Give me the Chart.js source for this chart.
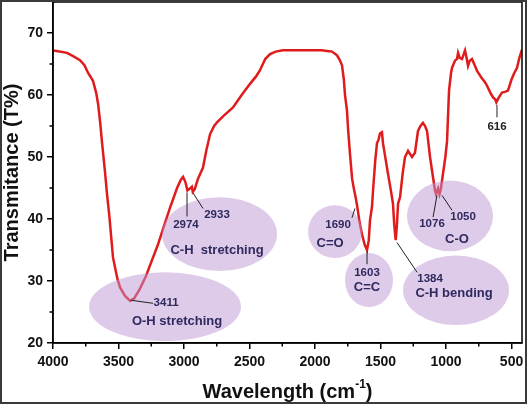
<!DOCTYPE html>
<html lang="en">
<head>
    <meta charset="UTF-8">
    <title>FTIR spectrum</title>
    <script src="https://cdn.jsdelivr.net/npm/chart.js"></script>
    <style>
        body {
            margin: 0;
            padding: 0;
            background: #fff;
        }
        #wrap {
            width: 527px;
            height: 404px;
        }
    </style>
</head>
<body>
    <div id="wrap">
        <canvas id="ftirChart" width="527" height="404"></canvas>
    </div>

    <script>
        // Spectrum (wavenumber in cm-1, transmittance in %)
        var wavenumbers = [
            4000, 3950, 3893, 3850, 3794, 3760, 3733, 3695, 3670, 3656,
            3640, 3626, 3603, 3588, 3570, 3542, 3510, 3489, 3450, 3411,
            3380, 3340, 3290, 3240, 3200, 3160, 3107, 3053, 3025, 3007,
            2990, 2974, 2955, 2940, 2933, 2918, 2893, 2855, 2830, 2801,
            2770, 2748, 2700, 2626, 2560, 2496, 2450, 2420, 2380, 2343,
            2300, 2244, 2100, 1950, 1908, 1870, 1832, 1810, 1794, 1780,
            1771, 1756, 1748, 1733, 1717, 1700, 1690, 1679, 1660, 1641,
            1620, 1603, 1590, 1580, 1565, 1557, 1540, 1527, 1515, 1504,
            1489, 1481, 1460, 1443, 1420, 1405, 1395, 1384, 1375, 1366,
            1351, 1330, 1313, 1290, 1275, 1260, 1237, 1214, 1195, 1176,
            1160, 1145, 1122, 1099, 1084, 1076, 1061, 1050, 1040, 1023,
            1005, 992, 977, 962, 954, 930, 916, 908, 895, 878,
            865, 855, 843, 832, 820, 802, 785, 763, 730, 700,
            687, 660, 641, 625, 616, 600, 573, 550, 527, 500,
            480, 458, 440, 420
        ];
        var transmittance = [
            67.2, 67.0, 66.8, 66.3, 65.6, 64.8, 63.6, 62.3, 60.3, 58.6,
            55.6, 52.4, 47.6, 44.1, 40.5, 33.8, 30.5, 29.0, 27.6, 26.8,
            27.2, 28.6, 30.8, 33.6, 35.8, 38.4, 41.8, 45.0, 46.3, 46.8,
            46.0, 44.6, 44.9, 45.2, 44.4, 44.8, 46.5, 48.3, 51.0, 53.7,
            55.0, 55.6, 56.6, 58.0, 60.0, 61.8, 63.0, 64.0, 65.8, 66.6,
            67.0, 67.2, 67.2, 67.2, 67.1, 67.0, 66.4, 65.6, 64.8, 62.5,
            60.0, 57.5, 54.6, 50.5, 46.5, 44.5, 43.5, 42.2, 39.5, 37.5,
            35.8, 35.0, 36.5, 39.8, 42.0, 44.6, 49.5, 52.2, 52.8, 53.8,
            54.0, 52.2, 49.5, 47.3, 44.5, 42.5, 39.0, 36.6, 39.0, 42.5,
            43.5, 47.5, 50.0, 51.0, 50.5, 50.0, 50.7, 54.2, 55.0, 55.5,
            55.0, 54.2, 50.0, 46.7, 44.6, 44.0, 44.9, 44.0, 44.8, 47.3,
            50.0, 52.6, 60.7, 63.5, 64.4, 65.6, 65.8, 66.8, 66.0, 65.8,
            66.6, 67.2, 66.0, 64.7, 65.5, 65.8, 65.0, 63.9, 62.8, 62.0,
            61.5, 60.3, 59.6, 59.3, 58.8, 59.5, 60.4, 60.5, 60.7, 62.5,
            63.5, 64.4, 66.0, 67.3
        ];

        // Axis settings
        var xMin = 420, xMax = 4000;
        var yMin = 20, yMax = 75;
        var xMajorTicks = [4000, 3500, 3000, 2500, 2000, 1500, 1000, 500];
        var yMajorTicks = [20, 30, 40, 50, 60, 70];
        var xMinorTicks = [750, 1250, 1750, 2250, 2750, 3250, 3750];
        var yMinorTicks = [25, 35, 45, 55, 65];

        // Shaded groups: [left wavenumber, right wavenumber, top %, bottom %]
        var ellipses = [
            [3725, 2565, 31.4, 20.3],
            [3168, 2290, 43.5, 31.6],
            [2053, 1641, 42.2, 33.7],
            [1771, 1405, 34.5, 25.8],
            [1298, 641, 46.2, 34.8],
            [1328, 519, 34.1, 22.9]
        ];

        // Leader lines from a peak to its label: [x1, y1, x2, y2]
        var leaders = [
            [3405, 26.9, 3237, 26.4],
            [2977, 44.3, 2977, 40.4],
            [2931, 44.2, 2855, 41.7],
            [1695, 41.7, 1718, 40.2],
            [1603, 34.8, 1603, 32.7],
            [1069, 43.8, 1099, 40.3],
            [1030, 43.8, 954, 41.4],
            [1374, 36.2, 1221, 31.4],
            [611, 58.4, 611, 56.4]
        ];

        // Peak numbers and group names: [text, x, y, size]
        var labels = [
            ['3411', 3137, 26.4, 11.5],
            ['O-H stretching', 3053, 23.4, 13],
            ['2974', 2985, 39.0, 11.5],
            ['2933', 2748, 40.6, 11.5],
            ['C-H  stretching', 2748, 35.0, 13],
            ['1690', 1824, 39.1, 11.5],
            ['C=O', 1885, 36.1, 13],
            ['1603', 1603, 31.3, 11.5],
            ['C=C', 1603, 28.9, 13],
            ['1076', 1107, 39.3, 11.5],
            ['1050', 870, 40.4, 11.5],
            ['C-O', 916, 36.7, 13],
            ['1384', 1122, 30.4, 11.5],
            ['C-H bending', 939, 28.0, 13]
        ];
        var peak616 = ['616', 611, 54.9, 11.5];

        var fontFamily = '"Liberation Sans", Arial, sans-serif';

        // Build the {x, y} points for the line
        var points = wavenumbers.map(function (w, i) {
            return { x: w, y: transmittance[i] };
        });

        // Draws the frame, minor ticks, axis titles and the annotations
        var decorPlugin = {
            id: 'decor',
            beforeDraw: function (chart) {
                var ctx = chart.ctx;
                ctx.save();
                ctx.fillStyle = '#fff';
                ctx.fillRect(0, 0, chart.width, chart.height);
                ctx.restore();
            },
            afterDatasetsDraw: function (chart) {
                var ctx = chart.ctx;
                var xs = chart.scales.x, ys = chart.scales.y;
                ctx.save();

                // lavender ellipses over the line
                ctx.fillStyle = 'rgba(190, 150, 212, 0.5)';
                ellipses.forEach(function (e) {
                    var x1 = xs.getPixelForValue(e[0]), x2 = xs.getPixelForValue(e[1]);
                    var y1 = ys.getPixelForValue(e[2]), y2 = ys.getPixelForValue(e[3]);
                    ctx.beginPath();
                    ctx.ellipse((x1 + x2) / 2, (y1 + y2) / 2, Math.abs(x2 - x1) / 2, Math.abs(y2 - y1) / 2, 0, 0, Math.PI * 2);
                    ctx.fill();
                });

                // leader lines
                ctx.strokeStyle = '#222';
                ctx.lineWidth = 1;
                leaders.forEach(function (l) {
                    ctx.beginPath();
                    ctx.moveTo(xs.getPixelForValue(l[0]), ys.getPixelForValue(l[1]));
                    ctx.lineTo(xs.getPixelForValue(l[2]), ys.getPixelForValue(l[3]));
                    ctx.stroke();
                });

                // texts
                ctx.textAlign = 'center';
                ctx.textBaseline = 'middle';
                ctx.fillStyle = '#2f2a5e';
                labels.forEach(function (t) {
                    ctx.font = 'bold ' + t[3] + 'px ' + fontFamily;
                    ctx.fillText(t[0], xs.getPixelForValue(t[1]), ys.getPixelForValue(t[2]));
                });
                ctx.fillStyle = '#222';
                ctx.font = 'bold ' + peak616[3] + 'px ' + fontFamily;
                ctx.fillText(peak616[0], xs.getPixelForValue(peak616[1]), ys.getPixelForValue(peak616[2]));
                ctx.restore();
            },
            afterDraw: function (chart) {
                var ctx = chart.ctx;
                var area = chart.chartArea;
                var xs = chart.scales.x, ys = chart.scales.y;
                ctx.save();

                // box around the plot
                ctx.strokeStyle = '#000';
                ctx.lineWidth = 1.5;
                ctx.strokeRect(area.left, area.top, area.right - area.left, area.bottom - area.top);

                // minor ticks
                ctx.beginPath();
                xMinorTicks.forEach(function (v) {
                    var px = xs.getPixelForValue(v);
                    ctx.moveTo(px, area.bottom);
                    ctx.lineTo(px, area.bottom + 3.5);
                });
                yMinorTicks.forEach(function (v) {
                    var py = ys.getPixelForValue(v);
                    ctx.moveTo(area.left, py);
                    ctx.lineTo(area.left - 3.5, py);
                });
                ctx.stroke();

                // axis titles
                ctx.fillStyle = '#111';
                ctx.textBaseline = 'middle';
                ctx.font = 'bold 20px ' + fontFamily;
                ctx.save();
                ctx.translate(12, (area.top + area.bottom) / 2);
                ctx.rotate(-Math.PI / 2);
                ctx.textAlign = 'center';
                ctx.fillText('Transmitance (T%)', 0, 0);
                ctx.restore();

                var main = 'Wavelength (cm';
                var sup = '-1';
                var close = ')';
                ctx.font = 'bold 20px ' + fontFamily;
                var wMain = ctx.measureText(main).width;
                var wClose = ctx.measureText(close).width;
                ctx.font = 'bold 12px ' + fontFamily;
                var wSup = ctx.measureText(sup).width;
                var startX = (area.left + area.right) / 2 - (wMain + wSup + wClose) / 2;
                var ty = 392;
                ctx.textAlign = 'left';
                ctx.font = 'bold 20px ' + fontFamily;
                ctx.fillText(main, startX, ty);
                ctx.font = 'bold 12px ' + fontFamily;
                ctx.fillText(sup, startX + wMain, ty - 7);
                ctx.font = 'bold 20px ' + fontFamily;
                ctx.fillText(close, startX + wMain + wSup, ty);

                // outer frame of the figure
                ctx.strokeStyle = '#3a3a3a';
                ctx.lineWidth = 2;
                ctx.strokeRect(1, 1, chart.width - 2, chart.height - 2);
                ctx.restore();
            }
        };

        var ctx = document.getElementById('ftirChart').getContext('2d');
        var ftirChart = new Chart(ctx, {
            type: 'line',
            data: {
                datasets: [{
                    data: points,
                    borderColor: '#e01b1b',
                    borderWidth: 2.5,
                    pointRadius: 0,
                    tension: 0,
                    fill: false
                }]
            },
            options: {
                responsive: false,
                animation: false,
                devicePixelRatio: 1,
                layout: {
                    padding: { top: 2, right: 5, left: 0, bottom: 0 }
                },
                plugins: {
                    legend: { display: false },
                    tooltip: { enabled: false }
                },
                scales: {
                    x: {
                        type: 'linear',
                        reverse: true,
                        min: xMin,
                        max: xMax,
                        afterBuildTicks: function (scale) {
                            scale.ticks = xMajorTicks.map(function (v) { return { value: v }; });
                        },
                        afterFit: function (scale) {
                            scale.height = 61;
                            scale.paddingLeft = 0;
                            scale.paddingRight = 0;
                        },
                        ticks: {
                            maxRotation: 0,
                            autoSkip: false,
                            padding: 5,
                            color: '#111',
                            font: { family: fontFamily, size: 14, weight: 'bold' },
                            callback: function (value) { return String(value); }
                        },
                        grid: {
                            drawOnChartArea: false,
                            drawTicks: true,
                            tickLength: 6,
                            color: '#000',
                            lineWidth: 1.5
                        },
                        border: { display: true, color: '#000', width: 1.5 }
                    },
                    y: {
                        min: yMin,
                        max: yMax,
                        afterBuildTicks: function (scale) {
                            scale.ticks = yMajorTicks.map(function (v) { return { value: v }; });
                        },
                        afterFit: function (scale) {
                            scale.width = 53;
                            scale.paddingTop = 0;
                            scale.paddingBottom = 0;
                        },
                        ticks: {
                            autoSkip: false,
                            padding: 4,
                            color: '#111',
                            font: { family: fontFamily, size: 14, weight: 'bold' },
                            callback: function (value) { return String(value); }
                        },
                        grid: {
                            drawOnChartArea: false,
                            drawTicks: true,
                            tickLength: 6,
                            color: '#000',
                            lineWidth: 1.5
                        },
                        border: { display: true, color: '#000', width: 1.5 }
                    }
                }
            },
            plugins: [decorPlugin]
        });
    </script>
</body>
</html>
